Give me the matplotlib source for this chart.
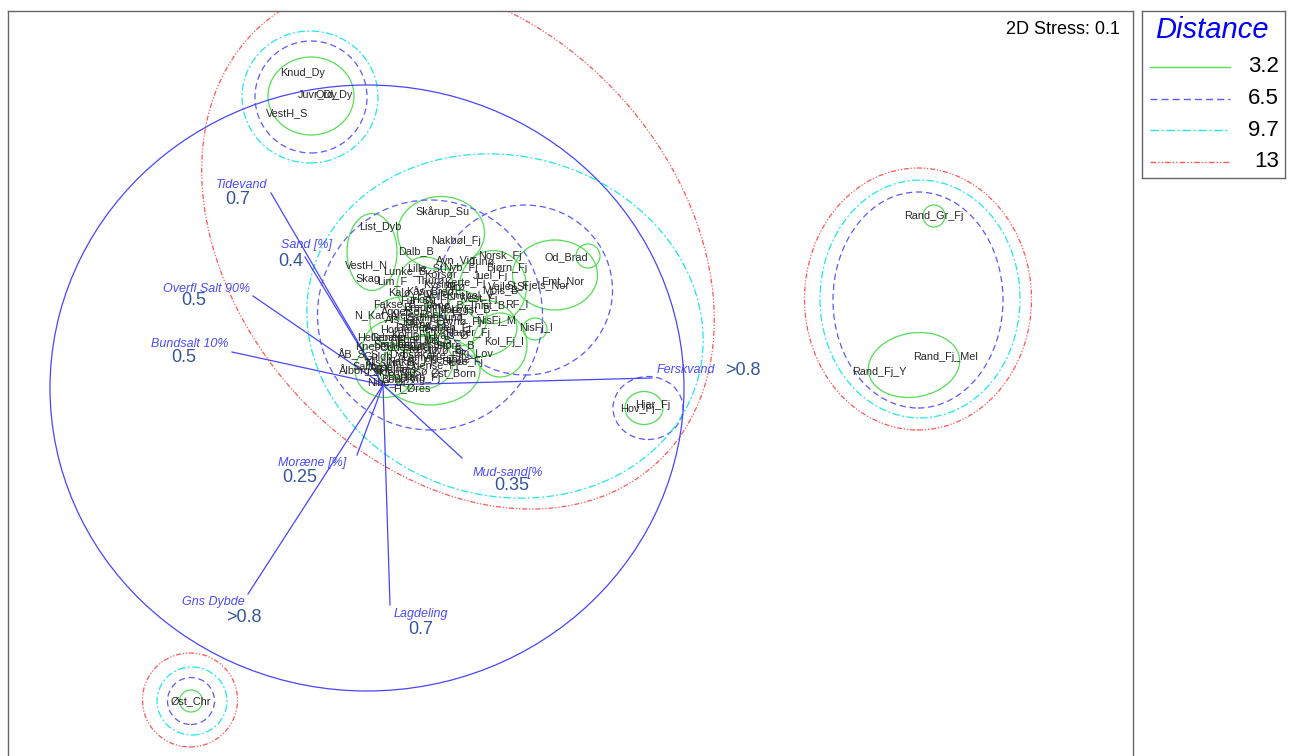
import matplotlib
matplotlib.use("Agg")
import matplotlib.pyplot as plt
from matplotlib.patches import Ellipse

plt.rcParams['font.family'] = ['Liberation Sans', 'DejaVu Sans']

# NMDS ordination (site scores, MDS1 / MDS2)
site_names = ["Knud_Dy", "Juvr_Dy", "Ord_Dy", "VestH_S",
              "Skårup_Su", "List_Dyb", "Nakbøl_Fj", "Dalb_B", "VestH_N", "Skag",
              "Od_Brad", "Emt_Nor", "St_Fjels_Nor", "NisFj_I", "NisFj_M", "Kol_Fj_I",
              "Ski_Lov", "Øst_Born", "N_Kat_Ale", "ÅB_S_S", "Knebel", "Skjern", "H_Øres",
              "Avn_Vig", "Lunke_B", "Lim_F", "Thurø", "Lille_St", "Vest_Fj", "RF_I",
              "Kalø_Vig", "Fakse_B", "Hors_Fj", "Vejle_Fj", "Ise_Fj", "Roskl_Fj", "Mari_Fj",
              "Als_Fj", "Flens_Fj", "Aaben_Fj", "Hader_Fj", "Kold_Fj", "Lille_B", "Store_B",
              "Småland", "Præstø", "Karre_Fj", "Guldb_S", "Naksk_Fj", "Odense_Fj", "Helnæs",
              "Hjarb_Fj", "Nibe_Br", "Skive_Fj", "Løgst_B", "Thist_B", "Kerte_Fj", "Korsør",
              "Nyb_Fj", "Juel_Fj", "Bjørn_Fj", "Tunø", "Mols_B", "Ærø", "Ebel_Vig", "Vejle_St",
              "Norsk_Fj", "Kalv_Fj", "Agger_T", "Horne", "Hellebæk", "Dybsø", "Saltb_V",
              "Ålborg_B", "Assens", "Bogø",
              "Kås_Bred", "Fur_Su", "Venø_B", "Sallingsund", "Draget", "Hvals_Ø", "Feggesund",
              "Oddesund", "Livø_B", "Nissum_B", "Lemvig", "Bork_Vig", "Kertinge", "Genner_B",
              "Avnø_Fj", "Bredning", "Kysing", "Knebel_V", "Vigsø", "Tempel",
              "Rand_Gr_Fj", "Rand_Fj_Mel", "Rand_Fj_Y", "Hov_Fj", "Hjar_Fj", "Øst_Chr"]
site_x = [-0.80, -0.65, -0.49, -0.96,
          0.60, -0.03, 0.73, 0.33, -0.17, -0.15,
          1.83, 1.80, 1.55, 1.53, 1.13, 1.21,
          0.91, 0.71, -0.03, -0.24, -0.11, 0.05, 0.29,
          0.73, 0.22, 0.09, 0.47, 0.42, 0.97, 1.34,
          0.27, 0.12, 0.47, 0.62, 0.37, 0.57, 0.72,
          0.17, 0.42, 0.65, 0.85, 0.27, 0.52, 0.72,
          0.12, 0.37, 0.57, 0.02, 0.27, 0.49, 0.15,
          0.37, 0.04, 0.79, 0.87, 1.04, 0.82, 0.57,
          0.77, 1.07, 1.24, 0.99, 1.17, 0.72, 0.35, 1.25,
          1.17, 0.37, 0.19, 0.12, -0.03, 0.22, -0.11,
          -0.21, 0.05, 0.17,
          0.47, 0.35, 0.62, 0.52, 0.29, 0.65, 0.42,
          0.22, 0.62, 0.07, 0.37, 0.20, 0.67, 0.12,
          0.79, 0.42, 0.57, 0.87, 0.32, 0.54,
          5.51, 5.63, 4.96, 2.54, 2.70, -1.92]
site_y = [3.12, 2.90, 2.90, 2.72,
          1.73, 1.58, 1.44, 1.34, 1.20, 1.06,
          1.28, 1.04, 0.99, 0.57, 0.64, 0.43,
          0.32, 0.12, 0.70, 0.31, 0.38, 0.12, -0.03,
          1.24, 1.14, 1.04, 1.04, 1.17, 0.86, 0.81,
          0.92, 0.81, 0.85, 0.90, 0.73, 0.70, 0.75,
          0.65, 0.60, 0.57, 0.52, 0.50, 0.45, 0.40,
          0.40, 0.35, 0.29, 0.29, 0.23, 0.19, 0.15,
          0.07, 0.03, 0.23, 0.75, 0.80, 1.02, 1.10,
          1.17, 1.09, 1.17, 1.23, 0.95, 0.98, 0.45, 0.98,
          1.29, 0.63, 0.73, 0.55, 0.47, 0.30, 0.19,
          0.15, 0.17, 0.08,
          0.93, 0.85, 0.80, 0.67, 0.57, 0.50, 0.40,
          0.37, 0.35, 0.23, 0.27, 0.05, 0.25, 0.48,
          0.63, 0.77, 1.00, 0.90, 0.13, 0.55,
          1.69, 0.28, 0.13, -0.24, -0.20, -3.16]

# cluster contours: centre x, centre y, width, height, angle
dist_levels = ["3.2", "6.5", "9.7", "13"]
clust_32 = [(-0.72, 2.89, 0.86, 0.78, 0), (-1.92, -3.16, 0.23, 0.22, 0),
            (5.51, 1.69, 0.22, 0.22, 0), (5.31, 0.20, 0.92, 0.64, 10),
            (2.61, -0.23, 0.38, 0.33, 0), (-0.11, 1.33, 0.50, 0.77, 0),
            (0.58, 1.52, 0.87, 0.73, 0), (1.72, 1.10, 0.85, 0.70, 0),
            (2.05, 1.29, 0.24, 0.24, 0), (1.52, 0.56, 0.24, 0.22, 0),
            (1.10, 0.98, 0.67, 0.73, 0), (0.42, 0.98, 0.56, 0.60, 0),
            (0.22, 0.62, 0.70, 0.53, 0), (0.72, 0.67, 0.64, 0.57, 0),
            (0.13, 0.37, 0.67, 0.57, 0), (0.37, 0.22, 0.66, 0.53, 0),
            (0.97, 0.57, 0.74, 0.57, 0), (0.47, 0.15, 1.00, 0.70, 0),
            (1.17, 0.40, 0.54, 0.64, 0), (0.02, 0.15, 0.60, 0.55, 0)]
clust_65 = [(-0.72, 2.88, 1.12, 1.12, 0), (-1.92, -3.16, 0.47, 0.47, 0),
            (5.35, 0.85, 1.70, 2.16, 0), (2.65, -0.23, 0.70, 0.63, 0),
            (0.47, 0.70, 2.25, 2.30, 0), (1.42, 0.95, 1.75, 1.70, 0)]
clust_97 = [(-0.73, 2.88, 1.36, 1.32, 0), (-1.91, -3.16, 0.70, 0.68, 0),
            (5.37, 0.86, 2.00, 2.38, 0), (1.22, 0.59, 4.00, 3.40, -15)]
clust_13 = [(-1.93, -3.15, 0.95, 0.94, 0), (5.35, 0.86, 2.27, 2.62, 0),
            (0.75, 1.40, 5.90, 4.40, -48)]

# environmental vectors (end points) and correlation labels
vec_names = ["Tidevand", "Sand [%]", "Overfl Salt 90%", "Bundsalt 10%", "Ferskvand",
             "Mud-sand[%", "Lagdeling", "Gns Dybde", "Moræne [%]"]
vec_values = ["0.7", "0.4", "0.5", "0.5", ">0.8", "0.35", "0.7", ">0.8", "0.25"]
vec_x = [-1.12, -0.78, -1.30, -1.51, 2.69, 0.79, 0.07, -1.35, -0.26]
vec_y = [1.92, 1.28, 0.89, 0.33, 0.07, -0.73, -2.20, -2.09, -0.70]
name_pos = [(-1.41, 2.00), (-0.77, 1.40), (-1.76, 0.96), (-1.93, 0.41), (3.03, 0.15),
            (1.25, -0.88), (0.38, -2.29), (-1.70, -2.17), (-0.71, -0.78)]
value_pos = [(-1.45, 1.86), (-0.92, 1.24), (-1.89, 0.85), (-1.99, 0.28), (3.60, 0.15),
             (1.29, -1.00), (0.38, -2.45), (-1.39, -2.32), (-0.83, -0.92)]
vec_circle = (-0.16, -0.03, 6.34, 6.06)

stress = 0.1

styles = {
    "3.2": dict(color="#55dd55", ls="-"),
    "6.5": dict(color="#5a5aff", ls=(0, (5, 3))),
    "9.7": dict(color="#22e6e6", ls=(0, (6, 2, 1.5, 2))),
    "13": dict(color="#ff5555", ls=(0, (4, 1.5, 1, 1.5, 1, 1.5))),
}
vec_color = "#4646ff"

W, H = 1293, 756
fig = plt.figure(figsize=(W / 100, H / 100), dpi=100)
ax = fig.add_axes([8 / W, -10 / H, 1125 / W, 755 / H])
ax.set_xlim(-3.75, 7.50)
ax.set_ylim(-3.81, 3.74)
ax.set_xticks([])
ax.set_yticks([])
for s in ax.spines.values():
    s.set_color("#666666")
    s.set_linewidth(1)

for level, groups in zip(dist_levels, [clust_32, clust_65, clust_97, clust_13]):
    st = styles[level]
    for cx, cy, w, h, ang in groups:
        ax.add_patch(Ellipse((cx, cy), w, h, angle=ang, fill=False,
                             edgecolor=st["color"], linestyle=st["ls"], lw=0.9, zorder=2))

# vector plot
cx, cy, cw, ch = vec_circle
ax.add_patch(Ellipse((cx, cy), cw, ch, fill=False, edgecolor=vec_color, lw=0.9, zorder=3))
for i in range(len(vec_names)):
    ax.plot([0, vec_x[i]], [0, vec_y[i]], color=vec_color, lw=0.9, zorder=3)
    ax.text(*name_pos[i], vec_names[i], color="#4a4aff", style="italic", fontsize=9,
            ha="center", va="center", zorder=5)
    ax.text(*value_pos[i], vec_values[i], color="#33559a", fontsize=13,
            ha="center", va="center", zorder=5)

for name, x, y in zip(site_names, site_x, site_y):
    ax.text(x, y, name, fontsize=7.8, color="#262626", ha="center", va="center", zorder=4)

fig.text(1120 / W, 1 - 29 / H, f"2D Stress: {stress}", fontsize=13, ha="right", va="center")

# legend box
lax = fig.add_axes([1142 / W, 1 - 178 / H, 143 / W, 167 / H])
lax.set_xlim(0, 143)
lax.set_ylim(167, 0)
lax.set_xticks([])
lax.set_yticks([])
for s in lax.spines.values():
    s.set_color("#666666")
    s.set_linewidth(1)
lax.text(70, 19, "Distance", color="#0000ff", style="italic", fontsize=21, ha="center", va="center")
for i, level in enumerate(dist_levels):
    yy = 56 + i * 31.5
    st = styles[level]
    lax.plot([8, 88], [yy, yy], color=st["color"], ls=st["ls"], lw=1)
    lax.text(137, yy, level, fontsize=16, ha="right", va="center")

fig.savefig("out.png", dpi=100)
